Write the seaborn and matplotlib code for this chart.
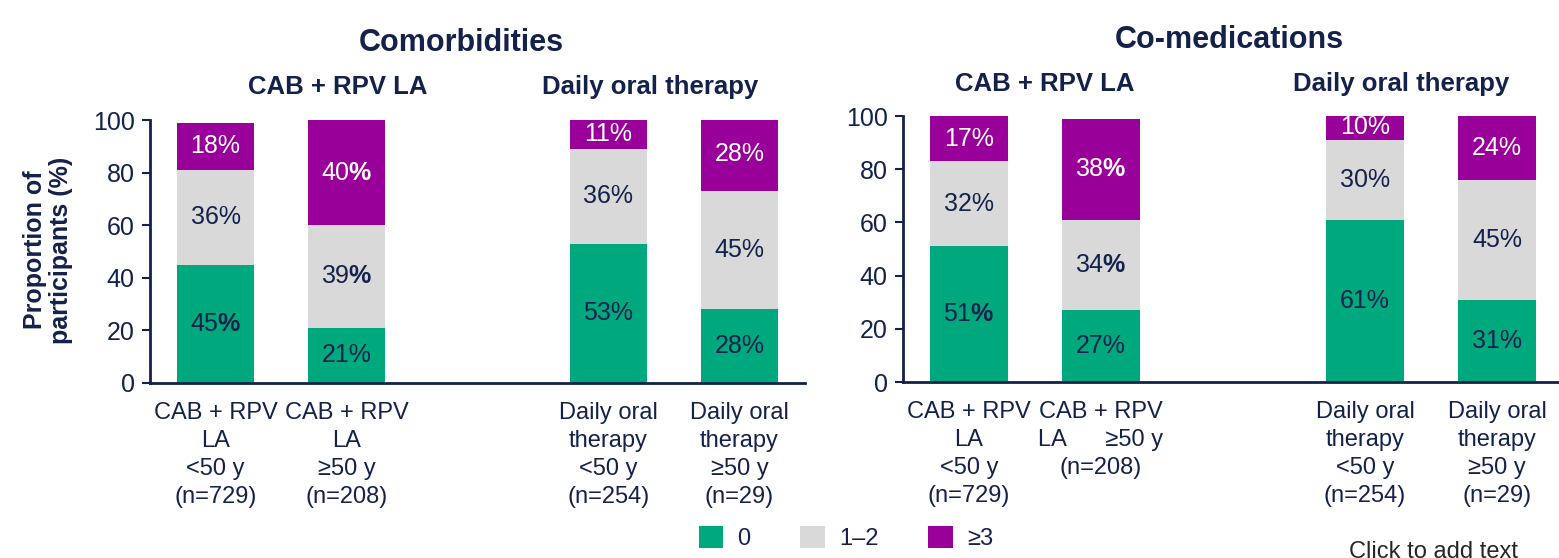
import matplotlib
matplotlib.use("Agg")
import matplotlib.pyplot as plt
from matplotlib.patches import Patch
import seaborn as sns
import pandas as pd

sns.set_style("white")
plt.rcParams["font.family"] = ["Liberation Sans", "DejaVu Sans"]
plt.rcParams["mathtext.fontset"] = "custom"
plt.rcParams["mathtext.rm"] = "Liberation Sans"
plt.rcParams["mathtext.bf"] = "Liberation Sans:bold"

# data
groups = ["cab_lt50", "cab_ge50", "oral_lt50", "oral_ge50"]
order = ["cab_lt50", "cab_ge50", "gap", "oral_lt50", "oral_ge50"]
labels_left = ["CAB + RPV\nLA\n<50 y\n(n=729)", "CAB + RPV\nLA\n≥50 y\n(n=208)", "",
               "Daily oral\ntherapy\n<50 y\n(n=254)", "Daily oral\ntherapy\n≥50 y\n(n=29)"]
labels_right = ["CAB + RPV\nLA\n<50 y\n(n=729)", "CAB + RPV\nLA      ≥50 y\n(n=208)", "",
                "Daily oral\ntherapy\n<50 y\n(n=254)", "Daily oral\ntherapy\n≥50 y\n(n=29)"]

comorb_0 = [45, 21, 53, 28]
comorb_12 = [36, 39, 36, 45]
comorb_3 = [18, 40, 11, 28]

comed_0 = [51, 27, 61, 31]
comed_12 = [32, 34, 30, 45]
comed_3 = [17, 38, 10, 24]

# which labels have a bold % sign (bar, segment)
bold_comorb = [(0, 0), (1, 1), (1, 2)]
bold_comed = [(0, 0), (1, 1), (1, 2)]

legend_labels = ["0", "1–2", "≥3"]

navy = "#13214b"
green = "#00a87e"
grey = "#d9d9d9"
purple = "#990099"

fig = plt.figure(figsize=(15.59, 5.58), dpi=100)
ax1 = fig.add_axes([150 / 1559, 1 - 383 / 558, 655 / 1559, 263 / 558])
ax2 = fig.add_axes([903 / 1559, 1 - 382 / 558, 660 / 1559, 266 / 558])


def draw_panel(ax, v0, v12, v3, bold, ticklabels):
    df = pd.DataFrame({"grp": groups, "c0": v0, "c12": v12, "c3": v3})
    df["top12"] = df["c0"] + df["c12"]
    df["total"] = df["top12"] + df["c3"]
    kw = dict(x="grp", order=order, width=0.59, saturation=1, ax=ax, linewidth=0)
    sns.barplot(data=df, y="total", color=purple, **kw)
    sns.barplot(data=df, y="top12", color=grey, **kw)
    sns.barplot(data=df, y="c0", color=green, **kw)

    for i, g in enumerate(groups):
        xpos = order.index(g)
        bases = [0, v0[i], v0[i] + v12[i]]
        vals = [v0[i], v12[i], v3[i]]
        for s in range(3):
            if (i, s) in bold:
                txt = f"{vals[s]}$\\mathbf{{\\%}}$"
            else:
                txt = f"{vals[s]}%"
            col = "white" if s == 2 else navy
            ax.text(xpos, bases[s] + vals[s] / 2, txt, ha="center", va="center",
                    fontsize=18, color=col)

    ax.set_xlim(-0.5, 4.5)
    ax.set_ylim(0, 100)
    ax.set_yticks([0, 20, 40, 60, 80, 100])
    ax.set_xticks(range(5))
    ax.set_xticklabels(ticklabels, fontsize=17, color=navy)
    for lbl in ax.get_xticklabels():
        lbl.set_linespacing(1.35)
    ax.set_xticks([-0.5, 0.5, 1.5, 2.5, 3.5, 4.5], minor=True)
    ax.tick_params(axis="x", which="major", length=0, pad=14)
    ax.tick_params(axis="x", which="minor", length=7, width=1.5, color=navy, direction="out")
    ax.tick_params(axis="y", length=6, width=1.5, color=navy, labelsize=18,
                   labelcolor=navy, pad=5, direction="out", left=True)
    ax.set_xlabel("")
    ax.set_ylabel("")
    for side in ["top", "right"]:
        ax.spines[side].set_visible(False)
    for side in ["left", "bottom"]:
        ax.spines[side].set_color(navy)
        ax.spines[side].set_linewidth(2)


draw_panel(ax1, comorb_0, comorb_12, comorb_3, bold_comorb, labels_left)
draw_panel(ax2, comed_0, comed_12, comed_3, bold_comed, labels_right)

# titles and group headers
fig.text(461 / 1559, 1 - 43 / 558, "Comorbidities", ha="center", va="center",
         fontsize=22, fontweight="bold", color=navy)
fig.text(1229 / 1559, 1 - 40 / 558, "Co-medications", ha="center", va="center",
         fontsize=22, fontweight="bold", color=navy)
fig.text(338 / 1559, 1 - 87 / 558, "CAB + RPV LA", ha="center", va="center",
         fontsize=18.5, fontweight="bold", color=navy)
fig.text(650 / 1559, 1 - 87 / 558, "Daily oral therapy", ha="center", va="center",
         fontsize=18.5, fontweight="bold", color=navy)
fig.text(1045 / 1559, 1 - 84 / 558, "CAB + RPV LA", ha="center", va="center",
         fontsize=18.5, fontweight="bold", color=navy)
fig.text(1401 / 1559, 1 - 84 / 558, "Daily oral therapy", ha="center", va="center",
         fontsize=18.5, fontweight="bold", color=navy)

fig.text(48 / 1559, 1 - 250 / 558, "Proportion of\nparticipants (%)", ha="center",
         va="center", rotation=90, fontsize=18, fontweight="bold", color=navy,
         linespacing=1.1)

handles = [Patch(facecolor=c, edgecolor="none") for c in [green, grey, purple]]
fig.legend(handles, legend_labels, loc="center", bbox_to_anchor=(846 / 1559, 1 - 538 / 558),
           ncol=3, frameon=False, fontsize=17, handlelength=1.05, handleheight=1.05,
           handletextpad=0.6, columnspacing=2.1, labelcolor=navy)

# placeholder text that sits partly below the slide edge, as in the reference
fig.text(1349 / 1559, 1 - 541 / 558, "Click to add text", ha="left", va="top",
         fontsize=17, color="#262626")

fig.savefig("out.png", dpi=100)
